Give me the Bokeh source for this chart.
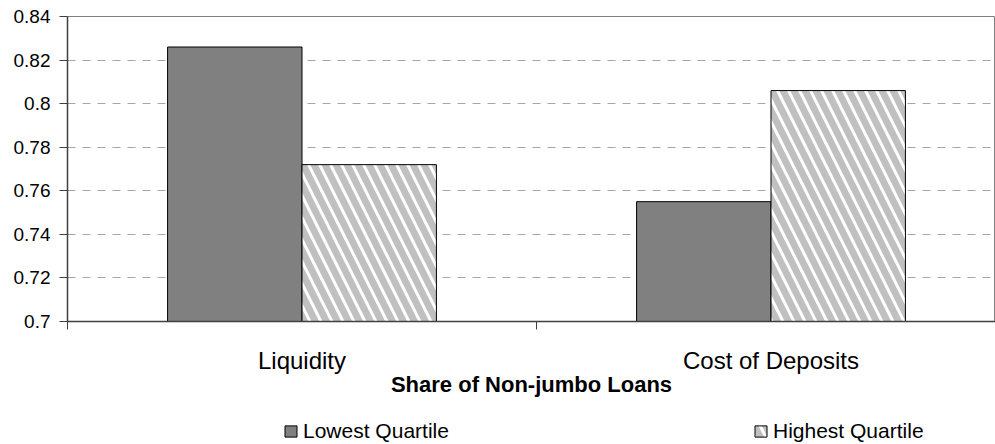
from bokeh.plotting import figure
from bokeh.layouts import column
from bokeh.models import ColumnDataSource, Range1d, FixedTicker, Legend, LegendItem
from bokeh.transform import dodge
from bokeh.embed import file_html
from bokeh.resources import INLINE

categories = ["Liquidity", "Cost of Deposits"]
lowest_quartile = [0.826, 0.755]
highest_quartile = [0.772, 0.806]
y_ticks = [0.7, 0.72, 0.74, 0.76, 0.78, 0.8, 0.82, 0.84]
y_tick_labels = ["0.7", "0.72", "0.74", "0.76", "0.78", "0.8", "0.82", "0.84"]
x_title = "Share of Non-jumbo Loans"
series_names = ["Lowest Quartile", "Highest Quartile"]

FONT = "Liberation Sans"
W = 995
centers = [i + 0.5 for i in range(len(categories))]
source = ColumnDataSource(dict(center=centers, low=lowest_quartile, high=highest_quartile))

LOW_STYLE = dict(fill_color="#808080", line_color="black", line_width=1)
HIGH_STYLE = dict(fill_color="#C0C0C0", line_color="black", line_width=1,
                  hatch_pattern="\\", hatch_color="white", hatch_weight=3, hatch_scale=22)

frame_w = W - 67
p = figure(width=W, height=408, output_backend="svg", toolbar_location=None,
           x_range=Range1d(0, frame_w / 469.0), y_range=Range1d(0.7, 0.84),
           min_border_left=67, min_border_right=0, min_border_top=16, min_border_bottom=87)
p.outline_line_color = "#808080"
p.outline_line_width = 1
p.background_fill_color = "white"
p.border_fill_color = "white"

bw = 0.2866
p.vbar(x=dodge("center", -bw / 2, range=p.x_range), top="low", bottom=0.7, width=bw,
       source=source, **LOW_STYLE)
p.vbar(x=dodge("center", bw / 2, range=p.x_range), top="high", bottom=0.7, width=bw,
       source=source, **HIGH_STYLE)

# x axis
xa = p.xaxis[0]
xa.ticker = FixedTicker(ticks=centers, minor_ticks=[0, 1, 2])
xa.major_label_overrides = {c: n for c, n in zip(centers, categories)}
xa.major_tick_out = 0
xa.major_tick_in = 0
xa.minor_tick_out = 8
xa.minor_tick_in = 0
xa.minor_tick_line_color = "#404040"
xa.axis_line_color = "#404040"
xa.axis_line_width = 1.5
xa.major_label_text_font = FONT
xa.major_label_text_font_size = "24px"
xa.major_label_text_color = "black"
xa.major_label_standoff = 17
xa.axis_label = x_title
xa.axis_label_text_font = FONT
xa.axis_label_text_font_size = "22px"
xa.axis_label_text_font_style = "bold"
xa.axis_label_text_color = "black"
xa.axis_label_standoff = -5

# y axis
ya = p.yaxis[0]
ya.ticker = FixedTicker(ticks=y_ticks)
ya.major_label_overrides = {t: l for t, l in zip(y_ticks, y_tick_labels)}
ya.major_tick_out = 8
ya.major_tick_in = 0
ya.minor_tick_line_color = None
ya.major_tick_line_color = "#404040"
ya.axis_line_color = "#404040"
ya.axis_line_width = 1.5
ya.major_label_text_font = FONT
ya.major_label_text_font_size = "19px"
ya.major_label_text_color = "black"
ya.major_label_standoff = 9

p.xgrid.grid_line_color = None
p.ygrid.ticker = FixedTicker(ticks=y_ticks)
p.ygrid.grid_line_color = "#a6a6a6"
p.ygrid.grid_line_dash = "8 7"
p.ygrid.grid_line_width = 1

# legend strip below the chart (its bars sit outside the visible range)
lf = figure(width=W, height=36, output_backend="svg", toolbar_location=None,
            x_range=Range1d(100, 101), y_range=Range1d(100, 101),
            min_border_left=0, min_border_right=0, min_border_top=0, min_border_bottom=0)
lf.axis.visible = False
lf.grid.visible = False
lf.outline_line_color = None
lf.background_fill_color = "white"
lf.border_fill_color = "white"
g_low = lf.vbar(x="center", top="low", bottom=0.7, width=bw, source=source, **LOW_STYLE)
g_high = lf.vbar(x="center", top="high", bottom=0.7, width=bw, source=source, **HIGH_STYLE)

legend = Legend(items=[LegendItem(label=series_names[0], renderers=[g_low], index=0),
                       LegendItem(label=series_names[1], renderers=[g_high], index=0)],
                orientation="horizontal", location=(216, 1),
                glyph_width=15, glyph_height=14, label_standoff=5,
                label_width=200, spacing=250,
                padding=0, margin=0, border_line_color=None, background_fill_alpha=0,
                label_text_font=FONT, label_text_font_size="21px", label_text_color="black")
lf.add_layout(legend, "center")

layout = column(p, lf, spacing=0)
open("out.html", "w").write(file_html(layout, INLINE))
